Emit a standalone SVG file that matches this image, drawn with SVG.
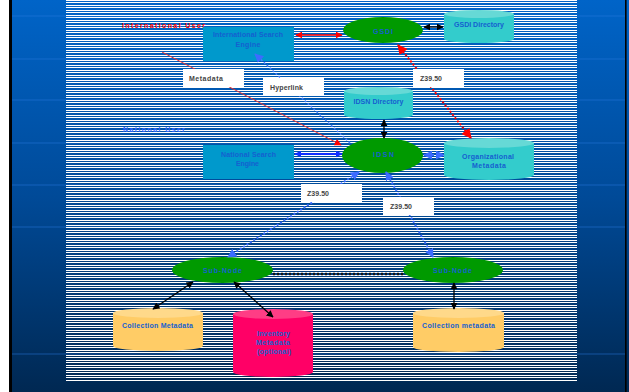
<svg xmlns="http://www.w3.org/2000/svg" width="629" height="392" viewBox="0 0 629 392">
<defs>
<linearGradient id="bg" x1="0" y1="0" x2="0" y2="1">
<stop offset="0" stop-color="#0064c8"/><stop offset="0.5" stop-color="#004a98"/><stop offset="1" stop-color="#002852"/>
</linearGradient>
<pattern id="stripes" patternUnits="userSpaceOnUse" width="10" height="5"><rect y="0" width="10" height="1" fill="#fff"/><rect y="2" width="10" height="1" fill="#fff"/></pattern>
<marker id="mRed" viewBox="0 0 10 10" refX="9" refY="5" markerWidth="7" markerHeight="7" markerUnits="userSpaceOnUse" orient="auto-start-reverse"><path d="M0,0 L10,5 L0,10 z" fill="#ff0000"/></marker>
<marker id="mRedBig" viewBox="0 0 10 10" refX="9" refY="5" markerWidth="10" markerHeight="10" markerUnits="userSpaceOnUse" orient="auto-start-reverse"><path d="M0,0 L10,5 L0,10 z" fill="#ff0000"/></marker>
<marker id="mBlk" viewBox="0 0 10 10" refX="9" refY="5" markerWidth="7" markerHeight="7" markerUnits="userSpaceOnUse" orient="auto-start-reverse"><path d="M0,0 L10,5 L0,10 z" fill="#000"/></marker>
<marker id="mBlue" viewBox="0 0 10 10" refX="9" refY="5" markerWidth="9" markerHeight="9" markerUnits="userSpaceOnUse" orient="auto-start-reverse"><path d="M0,0 L10,5 L0,10 z" fill="#3d6bff"/></marker>
<marker id="mDBlue" viewBox="0 0 10 10" refX="9" refY="5" markerWidth="7" markerHeight="7" markerUnits="userSpaceOnUse" orient="auto-start-reverse"><path d="M0,0 L10,5 L0,10 z" fill="#1030ff"/></marker>
</defs>
<style>
text{font-family:"Liberation Sans",Arial,sans-serif;font-weight:bold;font-size:7px;}
.nt{fill:#1560d0;text-anchor:middle;}
.lt{fill:#444;}
.lbl{fill:#fff;}
.ell{fill:#009a00;}
.box{fill:#0099cc;}
.cyan{fill:#33cccc;} .cyanTop{fill:#66d9d6;}
.yel{fill:#ffcc66;} .yelTop{fill:#ffd98a;}
.pink{fill:#ff0066;} .pinkTop{fill:#ff3d85;}
.blk{stroke:#000;stroke-width:1.3;fill:none;marker-start:url(#mBlk);marker-end:url(#mBlk);}
.bdash{stroke:#3d6bff;stroke-width:2;stroke-dasharray:2 2;fill:none;marker-start:url(#mBlue);marker-end:url(#mBlue);}
</style>
<!-- background -->
<rect x="0" y="0" width="629" height="392" fill="#fff"/>
<rect x="12" y="0" width="617" height="392" fill="url(#bg)"/>
<rect x="9" y="0" width="3" height="392" fill="#000"/>
<rect x="625" y="0" width="1.6" height="392" fill="#000"/>
<g stroke="#2a7ae0" stroke-width="1" opacity="0.5">
<line x1="12" y1="16" x2="625" y2="16"/><line x1="12" y1="59" x2="625" y2="59"/><line x1="12" y1="100" x2="625" y2="100"/>
<line x1="12" y1="143" x2="625" y2="143"/><line x1="12" y1="185" x2="625" y2="185"/><line x1="12" y1="227" x2="625" y2="227"/>
<line x1="12" y1="354" x2="625" y2="354"/>
</g>
<rect x="66" y="0" width="511" height="381" fill="url(#stripes)" shape-rendering="crispEdges"/>

<g id="international-user"><text x="122" y="27.5" fill="#ff0000" textLength="83" font-size="8">International User</text></g>
<g id="national-user"><text x="123" y="131.5" fill="#3366ff" textLength="62" font-size="8">National User</text></g>

<g id="international-search-engine">
<rect x="203" y="27" width="91" height="34" class="box"/>
<text x="248" y="36.5" class="nt" textLength="70">International Search</text>
<text x="248" y="46.5" class="nt" textLength="25">Engine</text>
</g>
<g id="gsdi">
<ellipse cx="383" cy="30" rx="40" ry="13" class="ell"/>
<text x="383" y="33.5" class="nt" font-size="10" font-weight="normal" textLength="20">GSDI</text>
</g>
<g id="gsdi-directory">
<path d="M444,14 V39 A35,4 0 0 0 514,39 V14 Z" class="cyan"/>
<ellipse cx="479" cy="14" rx="35" ry="4" class="cyanTop"/>
<text x="479" y="26.5" class="nt" textLength="50">GSDI Directory</text>
</g>
<g id="idsn-directory">
<path d="M344,91 V115 A34.5,4 0 0 0 413,115 V91 Z" class="cyan"/>
<ellipse cx="378.5" cy="91" rx="34.5" ry="4" class="cyanTop"/>
<text x="378.5" y="103.5" class="nt" textLength="50">IDSN Directory</text>
</g>
<g id="idsn">
<ellipse cx="382.5" cy="155.5" rx="40.5" ry="17.5" class="ell"/>
<text x="383.5" y="156.5" class="nt" font-size="10" font-weight="normal" textLength="21">IDSN</text>
</g>
<g id="organizational-metadata">
<path d="M444,143 V175 A45,5 0 0 0 534,175 V143 Z" class="cyan"/>
<ellipse cx="489" cy="143" rx="45" ry="5" class="cyanTop"/>
<text x="488" y="158.5" class="nt" textLength="52">Organizational</text>
<text x="489" y="167.5" class="nt" textLength="34">Metadata</text>
</g>
<g id="national-search-engine">
<rect x="203" y="145" width="91" height="34" class="box"/>
<text x="248.5" y="156.5" class="nt" textLength="55">National Search</text>
<text x="247.5" y="165.5" class="nt" textLength="23">Engine</text>
</g>
<g id="sub-node-left">
<ellipse cx="222.5" cy="270" rx="50.5" ry="13" class="ell"/>
<text x="222.5" y="272.5" class="nt" textLength="39">Sub-Node</text>
</g>
<g id="sub-node-right">
<ellipse cx="453" cy="270" rx="50" ry="13" class="ell"/>
<text x="452.5" y="272.5" class="nt" textLength="39">Sub-Node</text>
</g>
<g id="collection-metadata-left">
<path d="M113,313 V346 A45,5 0 0 0 203,346 V313 Z" class="yel"/>
<ellipse cx="158" cy="313" rx="45" ry="5" class="yelTop"/>
<text x="157.5" y="327.5" class="nt" textLength="71">Collection Metadata</text>
</g>
<g id="inventory-metadata">
<path d="M233,314 V372 A40,5 0 0 0 313,372 V314 Z" class="pink"/>
<ellipse cx="273" cy="314" rx="40" ry="5" class="pinkTop"/>
<text x="273.5" y="335.5" class="nt" textLength="33">Inventory</text>
<text x="273" y="344.5" class="nt" textLength="34">Metadata</text>
<text x="274" y="353.5" class="nt" textLength="34">(optional)</text>
</g>
<g id="collection-metadata-right">
<path d="M413,313 V347 A45.5,5 0 0 0 504,347 V313 Z" class="yel"/>
<ellipse cx="458.5" cy="313" rx="45.5" ry="5" class="yelTop"/>
<text x="458.5" y="327.5" class="nt" textLength="73">Collection metadata</text>
</g>

<g id="connectors">
<line x1="296" y1="35" x2="342" y2="35" stroke="#ff0000" stroke-width="1.5" marker-start="url(#mRed)" marker-end="url(#mRed)"/>
<line x1="424" y1="27" x2="443" y2="27" class="blk"/>
<line x1="398" y1="45" x2="471" y2="138" stroke="#ff0000" stroke-width="2" stroke-dasharray="2 2" marker-start="url(#mRedBig)" marker-end="url(#mRedBig)"/>
<line x1="162" y1="52" x2="341" y2="145" stroke="#e83030" stroke-width="1" marker-end="url(#mRed)"/>
<line x1="350" y1="143" x2="255" y2="54" stroke="#4d7fff" stroke-width="1.5" stroke-dasharray="2 2" marker-end="url(#mBlue)"/>
<line x1="384" y1="120" x2="384" y2="138" class="blk"/>
<line x1="295" y1="154" x2="342" y2="154" stroke="#1030ff" stroke-width="2" marker-start="url(#mDBlue)" marker-end="url(#mDBlue)"/>
<line x1="424" y1="155" x2="444" y2="155" class="bdash"/>
<line x1="359" y1="172" x2="228" y2="257" class="bdash"/>
<line x1="386" y1="172" x2="433" y2="257" class="bdash"/>
<line x1="273" y1="274" x2="403" y2="274" stroke="#111" stroke-width="2.5" stroke-dasharray="2 2"/>
<line x1="193" y1="282" x2="153" y2="309" class="blk"/>
<line x1="234" y1="282" x2="273" y2="317" class="blk"/>
<line x1="454" y1="283" x2="454" y2="309" class="blk"/>
<g id="label-metadata"><rect x="183" y="69" width="61" height="18" class="lbl"/><text x="189" y="80.5" class="lt" textLength="34">Metadata</text></g>
<g id="label-hyperlink"><rect x="263" y="78" width="61" height="18" class="lbl"/><text x="270" y="89.5" class="lt" textLength="33">Hyperlink</text></g>
<g id="label-z3950-a"><rect x="413" y="69" width="51" height="18" class="lbl"/><text x="420" y="80.5" class="lt" textLength="22">Z39.50</text></g>
<g id="label-z3950-b"><rect x="301" y="184" width="61" height="18" class="lbl"/><text x="307" y="195.5" class="lt" textLength="22">Z39.50</text></g>
<g id="label-z3950-c"><rect x="383" y="197" width="51" height="18" class="lbl"/><text x="390" y="208.5" class="lt" textLength="22">Z39.50</text></g>
</g>
</svg>
